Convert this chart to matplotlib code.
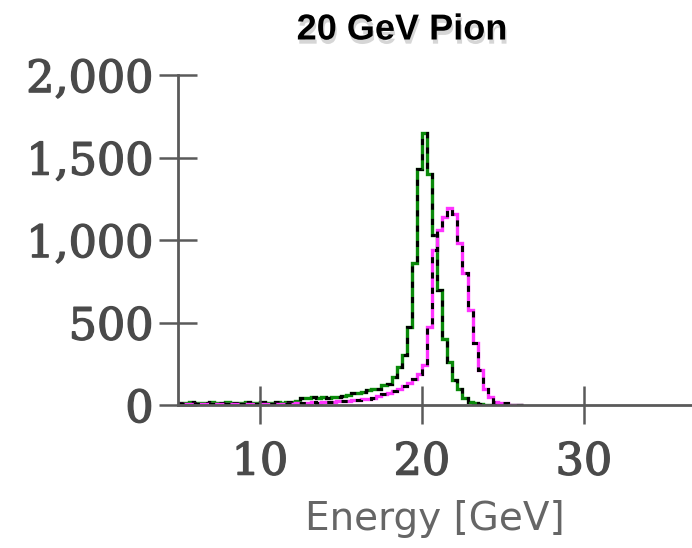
import numpy as np
import matplotlib
matplotlib.use("Agg")
import matplotlib.pyplot as plt
from matplotlib import patheffects
from matplotlib.ticker import FuncFormatter

# Histogram binning (GeV)
bin_start = 5.0
bin_width = 0.3125

# Counts per bin, starting at bin_start
green_counts = [
    15, 14, 16, 15, 13, 15, 16, 14, 15, 16, 15, 14,      # 5.0 - 8.75
    15, 16, 15, 14, 16, 15, 15, 16, 15, 16, 18,          # 8.75 - 12.19
    22, 45, 44, 46, 45, 48, 45, 50, 50, 55, 60,          # 12.19 - 15.63
    75, 75, 80, 90, 95, 100, 120, 125, 170, 230, 303,    # 15.63 - 19.06
    470, 860, 1430, 1650, 1400, 1030, 700, 400, 260,     # 19.06 - 21.88
    150, 95, 45, 20, 15, 8, 0, 0, 0, 0, 0, 0, 0, 0,
]
magenta_counts = [
    4, 5, 4, 5, 5, 4, 5, 5, 4, 5, 5, 4,
    5, 5, 4, 5, 5, 6, 5, 6, 6, 7, 8,
    12, 15, 15, 16, 15, 17, 16, 18, 22, 25, 25,
    28, 30, 35, 38, 45, 55, 65, 75, 85, 100, 115,
    135, 160, 190, 240, 470, 940, 1060, 1140, 1195,
    1160, 980, 800, 576, 375, 212, 100, 48, 18, 15, 10, 0, 0, 0,
]

x_ticks = [10, 20, 30]
y_ticks = [0, 500, 1000, 1500, 2000]

edges = bin_start + bin_width * np.arange(len(green_counts) + 1)

fig = plt.figure(figsize=(6.92, 5.48), dpi=100)
ax = fig.add_axes([178 / 692, 1 - 405 / 548, (692 - 178) / 692, 330 / 548])

axis_gray = "#5a5a5a"
label_gray = "#4a4a4a"

for counts, color in [(green_counts, "#0a8a0a"), (magenta_counts, "#ff33ff")]:
    ax.stairs(counts, edges, color=color, linewidth=2.4)
    ax.stairs(counts, edges, color="black", linewidth=2.2,
              linestyle=(0, (2.0, 3.0)))

ax.set_xlim(4.94, 36.67)
ax.set_ylim(0, 2000)
ax.set_xticks(x_ticks)
ax.set_yticks(y_ticks)
ax.yaxis.set_major_formatter(FuncFormatter(lambda v, p: f"{int(v):,}"))

for side in ["top", "right"]:
    ax.spines[side].set_visible(False)
for side in ["left", "bottom"]:
    ax.spines[side].set_color(axis_gray)
    ax.spines[side].set_linewidth(2.0)

ax.tick_params(direction="inout", length=27, width=1.8, color=axis_gray,
               labelcolor=label_gray, labelsize=32, pad=4)
ax.tick_params(axis="x", pad=12)
# slightly heavier strokes on the tick labels
thicker = [patheffects.withStroke(linewidth=1.0, foreground=label_gray)]
for lab in ax.get_xticklabels() + ax.get_yticklabels():
    lab.set_fontfamily("DejaVu Serif")
    lab.set_path_effects(thicker)

ax.set_xlabel("Energy [GeV]", fontsize=28, color="#666666",
              family="DejaVu Sans", labelpad=12)

fig.text(402 / 692, 1 - 30 / 548, "20 GeV Pion", ha="center", va="center",
         fontsize=26, fontweight="bold", family="Liberation Sans",
         path_effects=[patheffects.withSimplePatchShadow(
             offset=(1, -3), shadow_rgbFace="#999999", alpha=0.4)])

fig.savefig("out.png", dpi=100)
